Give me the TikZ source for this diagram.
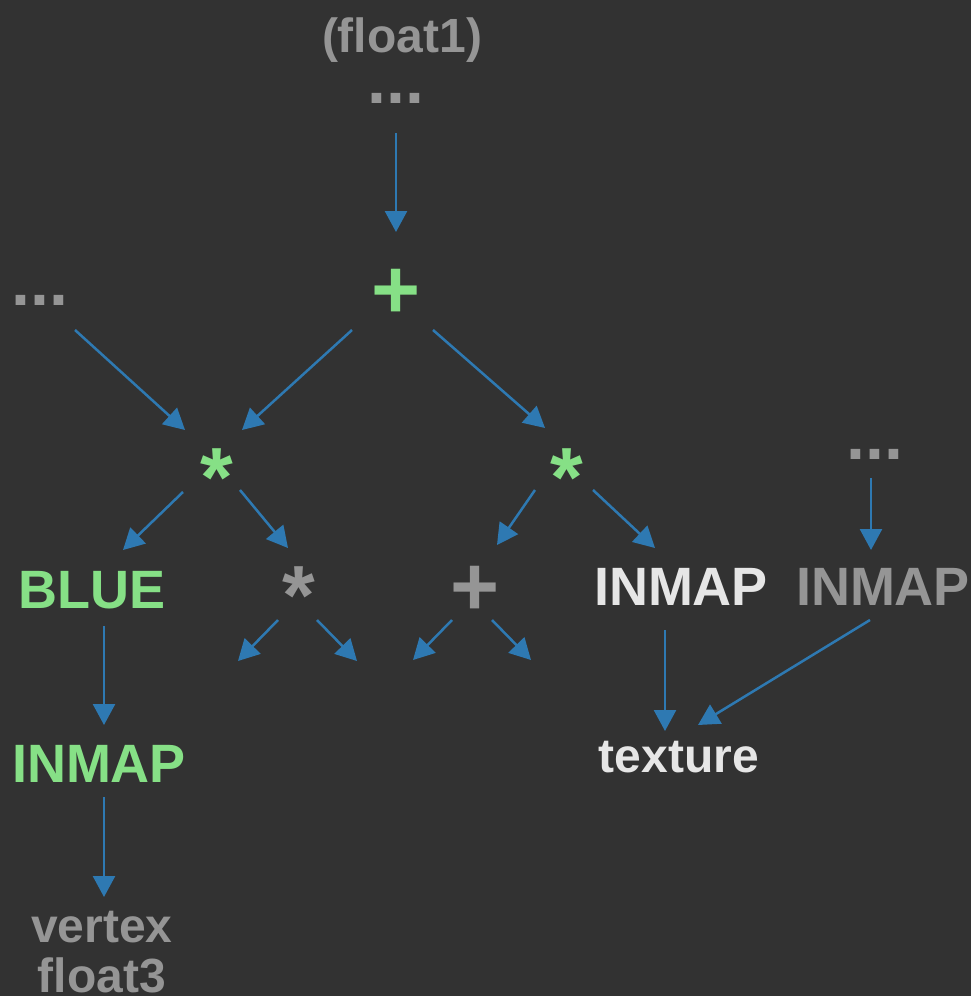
\documentclass[tikz,border=0pt]{standalone}
\usepackage{fontspec}
\setmainfont{Liberation Sans}
\usetikzlibrary{arrows.meta}
\definecolor{bg}{HTML}{323232}
\definecolor{opgreen}{HTML}{86E086}
\definecolor{dimgray}{HTML}{959595}
\definecolor{brightwhite}{HTML}{E6E6E6}
\definecolor{linkblue}{HTML}{2E79B2}
\tikzset{
  lbl/.style={anchor=base, inner sep=0pt, font=\bfseries\fontsize{48}{50}\selectfont},
  big/.style={anchor=base, inner sep=0pt, font=\bfseries\fontsize{54}{58}\selectfont},
  dots/.style={anchor=base, inner sep=0pt, font=\bfseries\fontsize{68}{70}\selectfont, text=dimgray},
  oper/.style={anchor=base, inner sep=0pt, font=\bfseries\fontsize{84}{86}\selectfont},
  arr/.style={draw=linkblue, line width=2.5pt, -{Triangle[length=21pt,width=22pt]}}
}
\begin{document}
\begin{tikzpicture}[x=1pt,y=-1pt]
\fill[bg] (0,0) rectangle (971,996);
\useasboundingbox (0,0) rectangle (971,996);

% nodes, placed by their baselines
\node[lbl, text=dimgray] (f1) at (402,52) {(float1)};
\node[dots] (dT) at (396,103) {...};
\node[oper, text=opgreen] (plus) at (396,318) {+};
\node[dots] (dL) at (40,305) {...};
\node[oper, text=opgreen] (sL) at (217,506) {*};
\node[oper, text=opgreen] (sR) at (567,506) {*};
\node[dots] (dR) at (875,459) {...};
\node[big, text=opgreen] (blue) at (92,608) {BLUE};
\node[oper, text=dimgray] (gs) at (299,624) {*};
\node[oper, text=dimgray] (gp) at (475,615) {+};
\node[big, text=brightwhite] (iW) at (681,605) {INMAP};
\node[big, text=dimgray] (iG) at (883,605) {INMAP};
\node[big, text=opgreen] (iGr) at (99,782) {INMAP};
\node[lbl, text=brightwhite] (tex) at (679,772) {texture};
\node[lbl, text=dimgray, align=center] (vx) at (102,992) {vertex\\float3};

% loose ends below the grey operators
\coordinate (c1) at (238,661);
\coordinate (c2) at (357,661);
\coordinate (c3) at (413,660);
\coordinate (c4) at (531,660);

% connectors
\draw[arr] ([shift={(0,30)}]dT.base) -- ([shift={(0,-86)}]plus.base);
\draw[arr] ([shift={(35,25)}]dL.base) -- ([shift={(-32,-76)}]sL.base);
\draw[arr] ([shift={(-44,12)}]plus.base) -- ([shift={(25,-76)}]sL.base);
\draw[arr] ([shift={(37,12)}]plus.base) -- ([shift={(-22,-78)}]sR.base);
\draw[arr] ([shift={(-34,-14)}]sL.base) -- ([shift={(31,-58)}]blue.base);
\draw[arr] ([shift={(23,-16)}]sL.base) -- ([shift={(-11,-76)}]gs.base);
\draw[arr] ([shift={(-32,-16)}]sR.base) -- ([shift={(22,-70)}]gp.base);
\draw[arr] ([shift={(26,-16)}]sR.base) -- ([shift={(-26,-57)}]iW.base);
\draw[arr] ([shift={(-21,-4)}]gs.base) -- (c1);
\draw[arr] ([shift={(18,-4)}]gs.base) -- (c2);
\draw[arr] ([shift={(-23,5)}]gp.base) -- (c3);
\draw[arr] ([shift={(17,5)}]gp.base) -- (c4);
\draw[arr] ([shift={(-4,19)}]dR.base) -- ([shift={(-12,-55)}]iG.base);
\draw[arr] ([shift={(12,18)}]blue.base) -- ([shift={(5,-57)}]iGr.base);
\draw[arr] ([shift={(5,15)}]iGr.base) -- ([shift={(2,-95)}]vx.base);
\draw[arr] ([shift={(-16,25)}]iW.base) -- ([shift={(-14,-41)}]tex.base);
\draw[arr] ([shift={(-13,15)}]iG.base) -- ([shift={(19,-47)}]tex.base);
\end{tikzpicture}
\end{document}
